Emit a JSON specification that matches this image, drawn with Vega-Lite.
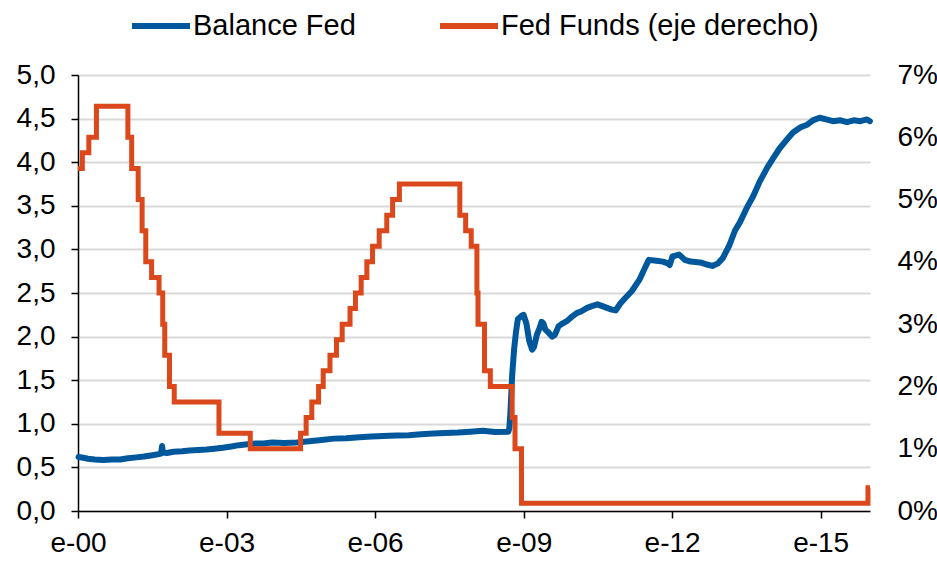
{
  "$schema": "https://vega.github.io/schema/vega-lite/v6.json",
  "width": 792,
  "height": 436,
  "autosize": {"type": "none"},
  "padding": {"left": 78, "top": 75, "right": 67, "bottom": 51},
  "config": {
    "view": {"stroke": null},
    "font": "Liberation Sans",
    "axis": {"labelFont": "Liberation Sans", "labelFontSize": 28, "labelColor": "#000000", "titleFontSize": 0}
  },
  "datasets": {
    "balance": [
      {"date": "2000-01-05", "value": 0.62}, {"date": "2000-02-09", "value": 0.61}, {"date": "2000-03-15", "value": 0.6},
      {"date": "2000-05-03", "value": 0.59}, {"date": "2000-07-05", "value": 0.585}, {"date": "2000-09-06", "value": 0.59},
      {"date": "2000-11-08", "value": 0.59}, {"date": "2001-01-03", "value": 0.605}, {"date": "2001-03-07", "value": 0.615},
      {"date": "2001-05-02", "value": 0.625}, {"date": "2001-07-04", "value": 0.64}, {"date": "2001-08-29", "value": 0.655},
      {"date": "2001-09-05", "value": 0.66}, {"date": "2001-09-12", "value": 0.745}, {"date": "2001-09-19", "value": 0.67},
      {"date": "2001-10-17", "value": 0.665}, {"date": "2001-12-05", "value": 0.68}, {"date": "2002-02-06", "value": 0.685},
      {"date": "2002-04-03", "value": 0.695}, {"date": "2002-06-05", "value": 0.7}, {"date": "2002-08-07", "value": 0.705},
      {"date": "2002-10-02", "value": 0.715}, {"date": "2002-12-04", "value": 0.725}, {"date": "2003-02-05", "value": 0.74},
      {"date": "2003-04-02", "value": 0.755}, {"date": "2003-06-04", "value": 0.765}, {"date": "2003-08-06", "value": 0.775},
      {"date": "2003-10-01", "value": 0.775}, {"date": "2003-12-03", "value": 0.785}, {"date": "2004-03-03", "value": 0.78},
      {"date": "2004-06-02", "value": 0.785}, {"date": "2004-09-01", "value": 0.8}, {"date": "2004-12-01", "value": 0.815},
      {"date": "2005-03-02", "value": 0.83}, {"date": "2005-06-01", "value": 0.835}, {"date": "2005-09-07", "value": 0.845},
      {"date": "2005-12-07", "value": 0.855}, {"date": "2006-03-01", "value": 0.86}, {"date": "2006-06-07", "value": 0.865},
      {"date": "2006-09-06", "value": 0.87}, {"date": "2006-12-06", "value": 0.88}, {"date": "2007-03-07", "value": 0.89},
      {"date": "2007-06-06", "value": 0.895}, {"date": "2007-09-05", "value": 0.9}, {"date": "2007-12-05", "value": 0.91},
      {"date": "2008-03-05", "value": 0.92}, {"date": "2008-06-04", "value": 0.905}, {"date": "2008-09-10", "value": 0.91},
      {"date": "2008-09-17", "value": 0.95}, {"date": "2008-09-24", "value": 1.1}, {"date": "2008-10-08", "value": 1.55},
      {"date": "2008-10-22", "value": 1.85}, {"date": "2008-11-05", "value": 2.05}, {"date": "2008-11-19", "value": 2.2},
      {"date": "2008-12-17", "value": 2.24}, {"date": "2008-12-31", "value": 2.25}, {"date": "2009-01-21", "value": 2.15},
      {"date": "2009-02-11", "value": 1.95}, {"date": "2009-03-04", "value": 1.85}, {"date": "2009-03-18", "value": 1.88},
      {"date": "2009-04-08", "value": 2.02}, {"date": "2009-04-29", "value": 2.1}, {"date": "2009-05-13", "value": 2.17},
      {"date": "2009-05-27", "value": 2.15}, {"date": "2009-06-10", "value": 2.08}, {"date": "2009-07-01", "value": 2.05},
      {"date": "2009-07-29", "value": 2.0}, {"date": "2009-08-19", "value": 2.02}, {"date": "2009-09-16", "value": 2.12},
      {"date": "2009-10-14", "value": 2.15}, {"date": "2009-11-18", "value": 2.18}, {"date": "2009-12-16", "value": 2.22},
      {"date": "2010-01-27", "value": 2.27}, {"date": "2010-03-03", "value": 2.29}, {"date": "2010-04-14", "value": 2.33},
      {"date": "2010-05-19", "value": 2.35}, {"date": "2010-06-30", "value": 2.37}, {"date": "2010-08-04", "value": 2.35},
      {"date": "2010-09-08", "value": 2.33}, {"date": "2010-10-13", "value": 2.31}, {"date": "2010-11-10", "value": 2.3},
      {"date": "2010-12-15", "value": 2.38}, {"date": "2011-01-19", "value": 2.44}, {"date": "2011-03-09", "value": 2.52},
      {"date": "2011-05-04", "value": 2.65}, {"date": "2011-06-15", "value": 2.79}, {"date": "2011-07-13", "value": 2.88},
      {"date": "2011-09-07", "value": 2.87}, {"date": "2011-10-26", "value": 2.86}, {"date": "2011-11-30", "value": 2.84},
      {"date": "2011-12-14", "value": 2.82}, {"date": "2012-01-04", "value": 2.92}, {"date": "2012-02-22", "value": 2.94},
      {"date": "2012-04-04", "value": 2.88}, {"date": "2012-05-16", "value": 2.86}, {"date": "2012-07-25", "value": 2.85},
      {"date": "2012-09-05", "value": 2.83}, {"date": "2012-10-24", "value": 2.81}, {"date": "2012-12-05", "value": 2.84},
      {"date": "2013-01-09", "value": 2.9}, {"date": "2013-02-27", "value": 3.05}, {"date": "2013-04-10", "value": 3.22},
      {"date": "2013-05-15", "value": 3.31}, {"date": "2013-07-03", "value": 3.47}, {"date": "2013-08-21", "value": 3.61},
      {"date": "2013-10-09", "value": 3.78}, {"date": "2013-12-04", "value": 3.94}, {"date": "2014-01-22", "value": 4.06},
      {"date": "2014-03-05", "value": 4.16}, {"date": "2014-04-16", "value": 4.24}, {"date": "2014-06-11", "value": 4.34},
      {"date": "2014-08-06", "value": 4.4}, {"date": "2014-09-24", "value": 4.43}, {"date": "2014-11-05", "value": 4.48},
      {"date": "2014-12-24", "value": 4.51}, {"date": "2015-02-11", "value": 4.49}, {"date": "2015-04-01", "value": 4.47},
      {"date": "2015-05-27", "value": 4.48}, {"date": "2015-07-15", "value": 4.46}, {"date": "2015-09-02", "value": 4.48},
      {"date": "2015-10-21", "value": 4.47}, {"date": "2015-12-09", "value": 4.49}, {"date": "2015-12-30", "value": 4.47}
    ],
    "fedfunds": [
      {"date": "2000-01-01", "value": 5.5}, {"date": "2000-02-02", "value": 5.75}, {"date": "2000-03-21", "value": 6.0},
      {"date": "2000-05-16", "value": 6.5}, {"date": "2001-01-03", "value": 6.0}, {"date": "2001-01-31", "value": 5.5},
      {"date": "2001-03-20", "value": 5.0}, {"date": "2001-04-18", "value": 4.5}, {"date": "2001-05-15", "value": 4.0},
      {"date": "2001-06-27", "value": 3.75}, {"date": "2001-08-21", "value": 3.5}, {"date": "2001-09-17", "value": 3.0},
      {"date": "2001-10-02", "value": 2.5}, {"date": "2001-11-06", "value": 2.0}, {"date": "2001-12-11", "value": 1.75},
      {"date": "2002-11-06", "value": 1.25}, {"date": "2003-06-25", "value": 1.0}, {"date": "2004-06-30", "value": 1.25},
      {"date": "2004-08-10", "value": 1.5}, {"date": "2004-09-21", "value": 1.75}, {"date": "2004-11-10", "value": 2.0},
      {"date": "2004-12-14", "value": 2.25}, {"date": "2005-02-02", "value": 2.5}, {"date": "2005-03-22", "value": 2.75},
      {"date": "2005-05-03", "value": 3.0}, {"date": "2005-06-30", "value": 3.25}, {"date": "2005-08-09", "value": 3.5},
      {"date": "2005-09-20", "value": 3.75}, {"date": "2005-11-01", "value": 4.0}, {"date": "2005-12-13", "value": 4.25},
      {"date": "2006-01-31", "value": 4.5}, {"date": "2006-03-28", "value": 4.75}, {"date": "2006-05-10", "value": 5.0},
      {"date": "2006-06-29", "value": 5.25}, {"date": "2007-09-18", "value": 4.75}, {"date": "2007-10-31", "value": 4.5},
      {"date": "2007-12-11", "value": 4.25}, {"date": "2008-01-22", "value": 3.5}, {"date": "2008-01-30", "value": 3.0},
      {"date": "2008-03-18", "value": 2.25}, {"date": "2008-04-30", "value": 2.0}, {"date": "2008-10-08", "value": 1.5},
      {"date": "2008-10-29", "value": 1.0}, {"date": "2008-12-16", "value": 0.125}, {"date": "2015-12-16", "value": 0.375},
      {"date": "2015-12-31", "value": 0.375}
    ]
  },
  "layer": [
    {
      "data": {"name": "balance"},
      "mark": {"type": "line", "strokeWidth": 6, "strokeCap": "round", "strokeJoin": "round"},
      "encoding": {
        "x": {
          "field": "date", "type": "temporal",
          "scale": {"domain": [{"year": 2000, "month": 1, "date": 1}, {"year": 2015, "month": 12, "date": 31}]},
          "axis": {
            "title": null, "format": "e-%y",
            "values": [{"year": 2000, "month": 1, "date": 1}, {"year": 2003, "month": 1, "date": 1}, {"year": 2006, "month": 1, "date": 1}, {"year": 2009, "month": 1, "date": 1}, {"year": 2012, "month": 1, "date": 1}, {"year": 2015, "month": 1, "date": 1}],
            "grid": false, "domainColor": "#000000", "domainWidth": 1.5, "tickColor": "#000000", "tickWidth": 1.5, "tickSize": 7,
            "labelPadding": 11, "labelFlush": false
          }
        },
        "y": {
          "field": "value", "type": "quantitative",
          "scale": {"domain": [0, 5], "nice": false},
          "axis": {
            "title": null, "orient": "left",
            "values": [0, 0.5, 1, 1.5, 2, 2.5, 3, 3.5, 4, 4.5, 5],
            "labelExpr": "replace(format(datum.value, '.1f'), '.', ',')",
            "grid": true, "gridColor": "#D9D9D9", "gridWidth": 2,
            "domainColor": "#000000", "domainWidth": 1.5, "tickColor": "#000000", "tickWidth": 1.5, "tickSize": 7,
            "labelPadding": 16, "labelFlush": false
          }
        },
        "color": {
          "datum": "Balance Fed",
          "scale": {"domain": ["Balance Fed", "Fed Funds (eje derecho)"], "range": ["#00589C", "#DA481B"]},
          "legend": {
            "orient": "none", "legendX": 51, "legendY": -81, "direction": "horizontal", "title": null,
            "symbolType": "stroke", "symbolSize": 3364, "symbolStrokeWidth": 6,
            "labelFontSize": 29, "labelFont": "Liberation Sans", "labelColor": "#000000", "labelOffset": 0,
            "labelLimit": 0, "columnPadding": 72, "padding": 0
          }
        }
      }
    },
    {
      "data": {"name": "fedfunds"},
      "mark": {"type": "line", "interpolate": "step-after", "strokeWidth": 5, "strokeJoin": "miter"},
      "encoding": {
        "x": {"field": "date", "type": "temporal"},
        "y": {
          "field": "value", "type": "quantitative",
          "scale": {"domain": [0, 7], "nice": false},
          "axis": {
            "title": null, "orient": "right",
            "values": [0, 1, 2, 3, 4, 5, 6, 7],
            "labelExpr": "datum.value + '%'",
            "grid": false, "domain": false, "ticks": false, "labelPadding": 27, "labelFlush": false
          }
        },
        "color": {"datum": "Fed Funds (eje derecho)"}
      }
    }
  ],
  "resolve": {"scale": {"y": "independent"}}
}
